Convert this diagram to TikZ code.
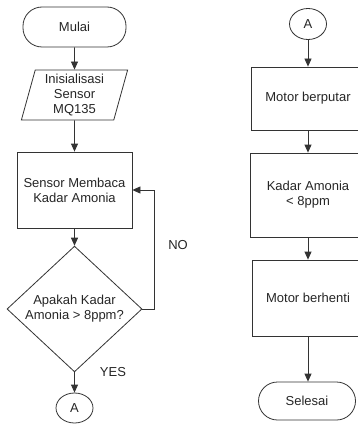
\documentclass[tikz,border=0pt]{standalone}
\usepackage{fontspec}
\setmainfont{Liberation Sans}
\usetikzlibrary{shapes.geometric,arrows.meta}
\begin{document}
\begin{tikzpicture}[x=1pt,y=-1pt,
 every node/.style={font=\fontsize{13}{15}\selectfont, text=black!85, align=center, inner sep=0pt},
 box/.style={draw=black!80, line width=0.8pt, rectangle},
 term/.style={box, rounded corners=19pt},
 link/.style={draw=black!80, line width=0.8pt, -{Triangle[length=8pt,width=7pt]}},
]
\useasboundingbox (0,0) rectangle (358,425);
\clip (0,0) rectangle (358,425);
\fill[white] (0,0) rectangle (358,425);
% left column
\node[term, minimum width=103pt, minimum height=40pt] (start) at (74.5,27) {Mulai};
\node[box, trapezium, trapezium left angle=76, trapezium right angle=104, trapezium stretches=true, minimum width=107pt, minimum height=50pt] (init) at (74.5,95) {Inisialisasi\\Sensor\\MQ135};
\node[box, minimum width=115pt, minimum height=76pt] (read) at (74.5,190) {Sensor Membaca\\Kadar Amonia};
\node[box, diamond, minimum width=135pt, minimum height=108pt] (dec) at (74.5,309) {Apakah Kadar\\Amonia > 8ppm?};
\node[box, ellipse, minimum width=37pt, minimum height=30pt] (a1) at (74.5,408) {A};
\node (no) at (178,245) {NO};
\node (yes) at (113,372) {YES};
\draw[link] (start.south) -- (init.north);
\draw[link] (init.south) -- (read.north);
\draw[link] (read.south) -- (dec.north);
\draw[link] (dec.south) -- (a1.north);
\draw[link] (dec.east) -- ++(12,0) |- (read.east);
% right column
\node[box, ellipse, minimum width=37pt, minimum height=31pt] (a2) at (308,24) {A};
\node[box, minimum width=114pt, minimum height=63pt] (m1) at (308,98.5) {Motor berputar};
\node[box, minimum width=116pt, minimum height=84pt] (k) at (308,195) {Kadar Amonia\\< 8ppm};
\node[box, minimum width=112pt, minimum height=76pt] (m2) at (308,298) {Motor berhenti};
\node[term, minimum width=97pt, minimum height=38pt] (end) at (307,401) {Selesai};
\draw[link] (a2.south) -- (m1.north);
\draw[link] (m1.south) -- (k.north);
\draw[link] (k.south) -- (m2.north);
\draw[link] (m2.south) -- (m2.south |- end.north);
\end{tikzpicture}
\end{document}
